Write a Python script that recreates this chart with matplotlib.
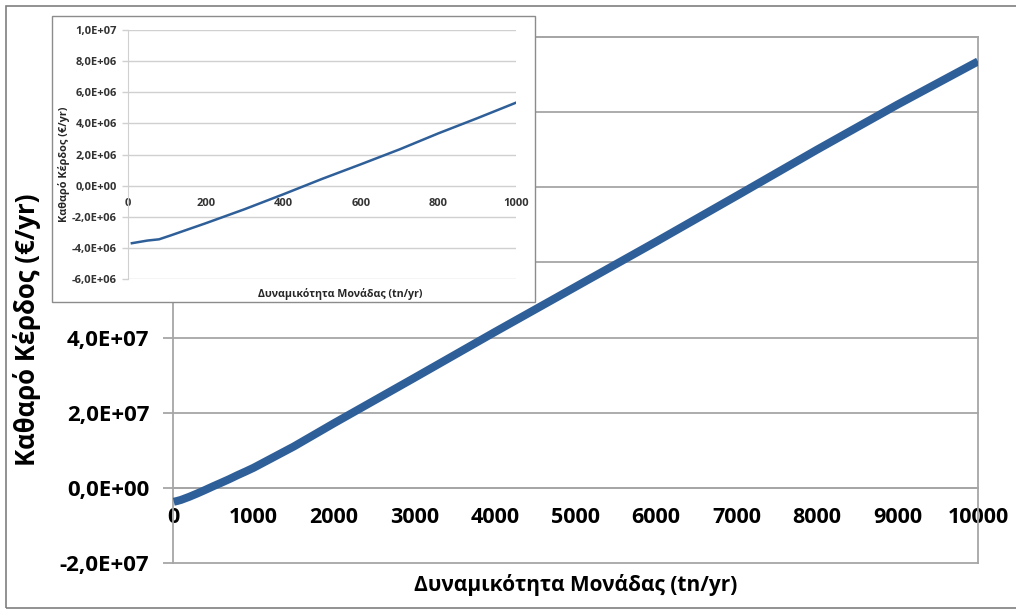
import matplotlib
matplotlib.use('Agg')
import matplotlib.pyplot as plt
from matplotlib.patches import Rectangle

plt.rcParams['font.family'] = ['Open Sans', 'DejaVu Sans']

# κύριο διάγραμμα: δυναμικότητα (tn/yr) - καθαρό κέρδος (€/yr)
capacity = [10, 50, 100, 200, 300, 400, 500, 600, 700, 800, 900, 1000,
            1500, 2000, 3000, 4000, 5000, 6000, 7000, 8000, 9000, 10000]
profit = [-3.7e6, -3.5e6, -3.2e6, -2.4e6, -1.5e6, -0.55e6, 0.43e6, 1.37e6,
          2.33e6, 3.36e6, 4.33e6, 5.33e6,
          1.1e7, 1.72e7, 2.93e7, 4.15e7, 5.35e7, 6.55e7, 7.77e7, 9.0e7, 1.02e8, 1.135e8]

main_xticks = [0, 1000, 2000, 3000, 4000, 5000, 6000, 7000, 8000, 9000, 10000]
main_yticks = [-2e7, 0, 2e7, 4e7, 6e7, 8e7, 1e8, 1.2e8]
main_ylabels = ['-2,0E+07', '0,0E+00', '2,0E+07', '4,0E+07', '6,0E+07',
                '8,0E+07', '1,0E+08', '1,2E+08']

# ένθετο: 0-1000 tn/yr
inset_cap = [10, 50, 80, 110, 200, 300, 400, 500, 600, 700, 800, 900, 1000]
inset_profit = [-3.7e6, -3.53e6, -3.45e6, -3.2e6, -2.42e6, -1.52e6, -0.56e6,
                0.43e6, 1.37e6, 2.33e6, 3.36e6, 4.33e6, 5.33e6]
inset_xticks = [0, 200, 400, 600, 800, 1000]
inset_yticks = [-6e6, -4e6, -2e6, 0, 2e6, 4e6, 6e6, 8e6, 1e7]
inset_ylabels = ['-6,0E+06', '-4,0E+06', '-2,0E+06', '0,0E+00', '2,0E+06',
                 '4,0E+06', '6,0E+06', '8,0E+06', '1,0E+07']

line_color = '#2f5f98'
W, H = 1016, 610

fig = plt.figure(figsize=(10.16, 6.10), dpi=100)

# εξωτερικό πλαίσιο
fig.patches.append(Rectangle((6 / W, 1 - 608 / H), 1.2, 602 / H, transform=fig.transFigure,
                             fill=False, edgecolor='#7f7f7f', linewidth=1.2, zorder=0.5))

# κύριοι άξονες
ax = fig.add_axes([173 / W, 1 - 563 / H, 805 / W, 526 / H])
ax.spines['bottom'].set_position(('data', 0))
ax.plot(capacity, profit, color=line_color, linewidth=5.8, solid_capstyle='butt', zorder=3)
ax.set_xlim(0, 10000)
ax.set_ylim(-2e7, 1.2e8)
ax.set_xticks(main_xticks)
ax.set_xticklabels([str(t) for t in main_xticks], fontsize=15.5, fontweight='bold')
ax.set_yticks(main_yticks)
ax.set_yticklabels(main_ylabels, fontsize=16, fontweight='bold')
# οι ετικέτες πάνω από 4E+07 κρύβονται κάτω από το ένθετο
for t, lbl in zip(main_yticks, ax.get_yticklabels()):
    if t > 5e7:
        lbl.set_visible(False)
ax.grid(axis='y', color='#a6a6a6', linewidth=1.3, clip_on=False)
for s in ax.spines.values():
    s.set_color('#a6a6a6')
    s.set_linewidth(1.3)
ax.tick_params(axis='x', length=0, pad=14)
ax.tick_params(axis='y', length=7, width=1.3, color='#a6a6a6', pad=10)

fig.text(27 / W, 1 - 330 / H, 'Καθαρό Κέρδος (€/yr)', rotation=90, ha='center', va='center',
         fontsize=18.5, fontweight='bold')
fig.text(576 / W, 1 - 585 / H, 'Δυναμικότητα Μονάδας (tn/yr)', ha='center', va='center',
         fontsize=15, fontweight='bold')

# ένθετο διάγραμμα
fig.patches.append(Rectangle((52 / W, 1 - 302 / H), 483 / W, 286 / H, transform=fig.transFigure,
                             facecolor='white', edgecolor='#8c8c8c', linewidth=1.0, zorder=1))

ax2 = fig.add_axes([128 / W, 1 - 279 / H, 388 / W, 249 / H], zorder=2)
ax2.spines['bottom'].set_position(('data', 0))
ax2.patch.set_alpha(0)
ax2.plot(inset_cap, inset_profit, color=line_color, linewidth=1.8, zorder=3)
ax2.set_xlim(0, 1000)
ax2.set_ylim(-6e6, 1e7)
ax2.set_xticks(inset_xticks)
ax2.set_xticklabels([str(t) for t in inset_xticks], fontsize=8, fontweight='bold', color='#333333')
ax2.set_yticks(inset_yticks)
ax2.set_yticklabels(inset_ylabels, fontsize=8, fontweight='bold', color='#333333')
ax2.grid(axis='y', color='#d0d0d0', linewidth=1.0)
ax2.spines['bottom'].set_visible(False)
ax2.spines['top'].set_visible(False)
ax2.spines['right'].set_visible(False)
ax2.spines['left'].set_color('#d0d0d0')
ax2.tick_params(axis='x', length=0, pad=9)
ax2.tick_params(axis='y', length=4, width=1.0, color='#d0d0d0', pad=4)

fig.text(64 / W, 1 - 164 / H, 'Καθαρό Κέρδος (€/yr)', rotation=90, ha='center', va='center',
         fontsize=7.8, fontweight='bold', color='#262626')
fig.text(340 / W, 1 - 294 / H, 'Δυναμικότητα Μονάδας (tn/yr)', ha='center', va='center',
         fontsize=7.7, fontweight='bold', color='#262626')

fig.savefig('out.png', dpi=100)
